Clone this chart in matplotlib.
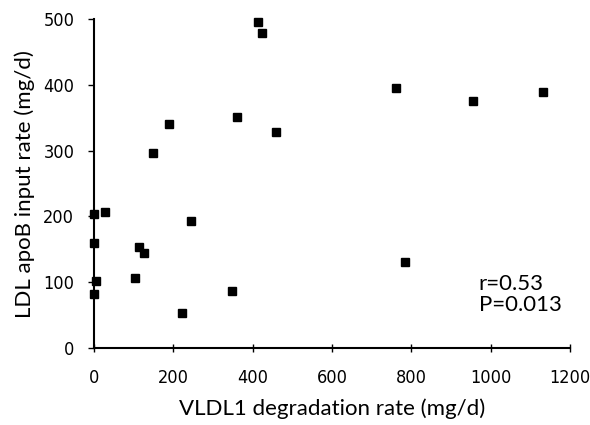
import matplotlib
matplotlib.use('Agg')
import matplotlib.pyplot as plt

# VLDL1 degradation rate vs LDL apoB input rate (mg/d)
vldl1_degradation = [0, 0, 5, 0, 28, 105, 114, 126, 223, 244, 349,
                     150, 190, 361, 414, 423, 459, 761, 955, 1133, 785]
ldl_apob_input = [204, 160, 102, 82, 207, 106, 154, 145, 53, 193, 87,
                  297, 341, 351, 496, 479, 328, 396, 376, 389, 131]

x_ticks = [0, 200, 400, 600, 800, 1000, 1200]
y_ticks = [0, 100, 200, 300, 400, 500]

plt.rcParams['font.family'] = ['DejaVu Sans']
plt.rcParams['font.stretch'] = 'condensed'

fig = plt.figure(figsize=(5.9, 4.25), dpi=100)
ax = fig.add_axes([0.159, 0.181, 0.807, 0.774])

ax.plot(vldl1_degradation, ldl_apob_input, 's', color='black',
        markersize=5.5, clip_on=False, zorder=3)

ax.set_xlim(0, 1200)
ax.set_ylim(0, 500)
ax.set_xticks(x_ticks)
ax.set_yticks(y_ticks)
ax.spines['top'].set_visible(False)
ax.spines['right'].set_visible(False)
ax.spines['left'].set_linewidth(1.5)
ax.spines['bottom'].set_linewidth(1.5)
ax.tick_params(axis='x', direction='inout', length=6, width=1, labelsize=13, pad=12)
ax.tick_params(axis='y', direction='out', length=4, width=1, labelsize=13, pad=10)

ax.set_xlabel('VLDL1 degradation rate (mg/d)', fontsize=16,
              family=['Lato', 'DejaVu Sans'], labelpad=8)
ax.set_ylabel('LDL apoB input rate (mg/d)', fontsize=16,
              family=['Lato', 'DejaVu Sans'], labelpad=6)

ax.text(970, 82, 'r=0.53\nP=0.013', fontsize=16, family=['Lato', 'DejaVu Sans'],
        linespacing=1.05, va='center', ha='left')

fig.savefig('out.png', dpi=100)
